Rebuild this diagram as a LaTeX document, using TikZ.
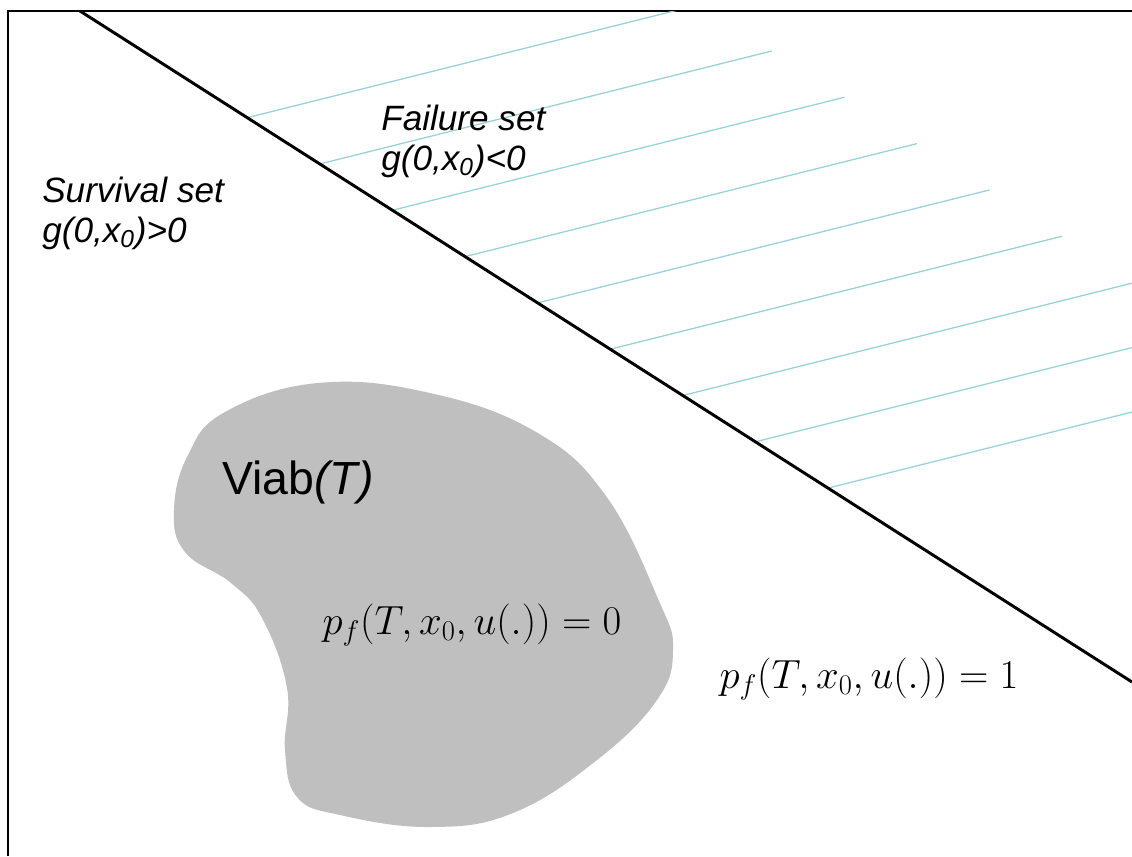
\RequirePackage{fix-cm}
\documentclass[tikz,border=0pt]{standalone}
\usepackage[no-math]{fontspec}
\setmainfont{Liberation Sans}
\usetikzlibrary{calc}

\definecolor{hatchcol}{RGB}{150,210,214}
\definecolor{kernelgray}{RGB}{191,191,191}

\begin{document}
\begin{tikzpicture}[x=0.025cm, y=-0.025cm,
  setlabel/.style={font=\fontsize{25}{30}\selectfont\itshape, anchor=base west, inner sep=0pt},
  pflabel/.style={font=\fontsize{29}{35}\selectfont, anchor=base, inner sep=0pt},
  hatch/.style={hatchcol, line width=0.9pt}]
\useasboundingbox (0,0) rectangle (1132,856);
% frame (top and left only)
\draw [line width=1.4pt] (8,856) -- (8,11) -- (1132,11);
% Viab(T)
\fill [kernelgray] plot [smooth cycle, tension=0.7] coordinates {
  (318,383) (430,393) (536,432) (606,496) (659,601) (673,650) (657,700)
  (597,760) (513,813) (430,827) (340,815) (297,797) (285,750) (287,688)
  (262,618) (231,583) (185,552) (174,510) (188,455) (225,412)};
% boundary g(0,x0)=0
\coordinate (gtop) at (80,11);
\coordinate (gbot) at (1132,682);
\begin{scope}
\clip (8,11) rectangle (1132,856);
\foreach \i in {0,...,8}
  \draw [hatch] ($(gtop)!{0.159+0.069*\i}!(gbot)$) -- ++(452,-113);
\end{scope}
\draw [line width=2.1pt] (gtop) -- (gbot);
% labels
\node (surv) at (42,202) [setlabel] {Survival set};
\node (survg) at (42,242) [setlabel] {g(0,x\textsubscript{0})>0};
\node (fail) at (381,130) [setlabel] {Failure set};
\node (failg) at (381,170) [setlabel] {g(0,x\textsubscript{0})<0};
\node (viab) at (222,494) [anchor=base west, inner sep=0pt, font=\fontsize{33}{40}\selectfont] {Viab\textit{(T)}};
\node (pf0) at (472,634) [pflabel] {$p_f(T,x_0,u(.))=0$};
\node (pf1) at (869,688) [pflabel] {$p_f(T,x_0,u(.))=1$};
\end{tikzpicture}
\end{document}
